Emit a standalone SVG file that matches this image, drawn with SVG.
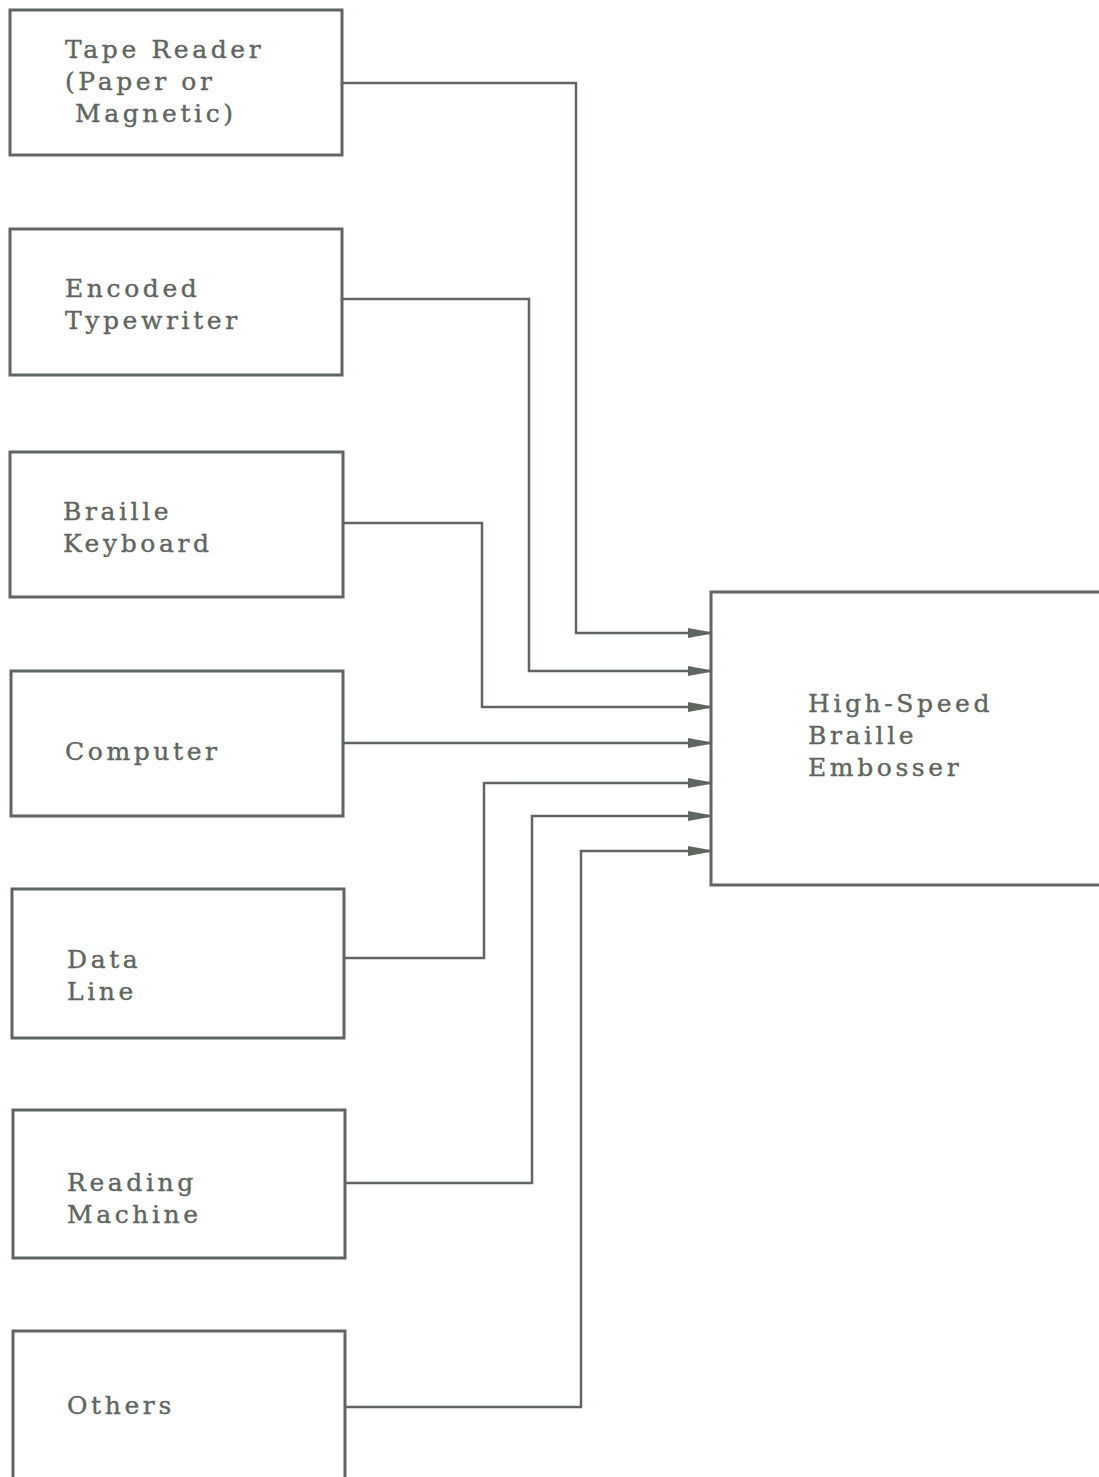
<svg xmlns="http://www.w3.org/2000/svg" width="1099" height="1477" viewBox="0 0 1099 1477">
<defs>
<marker id="arr" markerUnits="userSpaceOnUse" markerWidth="24" markerHeight="12" refX="22" refY="6" orient="auto">
<path d="M0,1 L22,5 L22,7 L0,11 Z" fill="#5f6660"/>
</marker>
</defs>
<style>
.box{fill:#fff;stroke:#5f6660;stroke-width:3}
.t{font-family:"DejaVu Serif","Liberation Serif",serif;font-size:25px;letter-spacing:3.6px;fill:#5f6660;stroke:#5f6660;stroke-width:0.4}
.c{fill:none;stroke:#5f6660;stroke-width:2.5;marker-end:url(#arr)}
</style>
<rect width="1099" height="1477" fill="#fff"/>
<g id="tape"><rect class="box" x="10" y="10" width="332" height="145"/>
<text class="t" x="65" y="58">Tape Reader</text><text class="t" x="65" y="90">(Paper or</text><text class="t" x="75" y="122">Magnetic)</text></g>
<g id="encoded"><rect class="box" x="10" y="229" width="332" height="146"/>
<text class="t" x="65" y="297">Encoded</text><text class="t" x="65" y="329">Typewriter</text></g>
<g id="keyboard"><rect class="box" x="10" y="452" width="333" height="145"/>
<text class="t" x="63" y="520">Braille</text><text class="t" x="63" y="552">Keyboard</text></g>
<g id="computer"><rect class="box" x="11" y="671" width="332" height="145"/>
<text class="t" x="65" y="760">Computer</text></g>
<g id="dataline"><rect class="box" x="12" y="889" width="332" height="149"/>
<text class="t" x="67" y="968">Data</text><text class="t" x="67" y="1000">Line</text></g>
<g id="reading"><rect class="box" x="13" y="1110" width="332" height="148"/>
<text class="t" x="67" y="1191">Reading</text><text class="t" x="67" y="1223">Machine</text></g>
<g id="others"><rect class="box" x="13" y="1331" width="332" height="160"/>
<text class="t" x="67" y="1414">Others</text></g>
<g id="embosser"><rect class="box" x="711" y="592" width="400" height="293"/>
<text class="t" x="808" y="712">High-Speed</text><text class="t" x="808" y="744">Braille</text><text class="t" x="808" y="776">Embosser</text></g>
<g id="connectors">
<path class="c" d="M342,83 H576 V633 H710"/>
<path class="c" d="M342,299 H529 V671 H710"/>
<path class="c" d="M343,523 H482 V707 H710"/>
<path class="c" d="M343,743 H710"/>
<path class="c" d="M344,958 H484 V783 H710"/>
<path class="c" d="M345,1183 H532 V816 H710"/>
<path class="c" d="M345,1407 H581 V851 H710"/>
</g>
</svg>
